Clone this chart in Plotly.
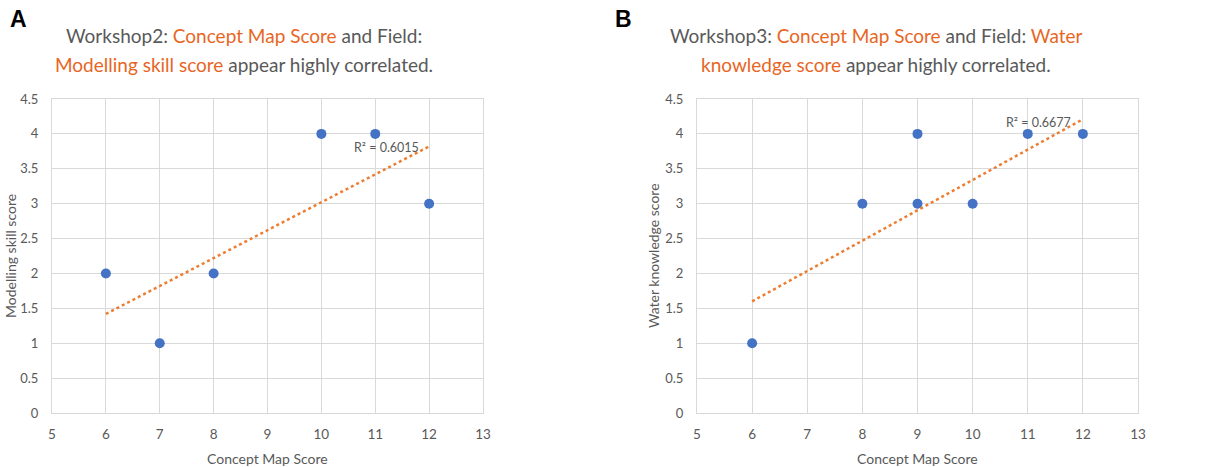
import plotly.graph_objects as go

# ---- data ----
a_x = [6, 7, 8, 10, 11, 12]
a_y = [2, 1, 2, 4, 4, 3]
a_trend_x = [6, 12]
a_trend_y = [1.42, 3.82]
a_r2 = "R² = 0.6015"

b_x = [6, 8, 9, 9, 10, 11, 12]
b_y = [1, 3, 4, 3, 3, 4, 4]
b_trend_x = [6, 12]
b_trend_y = [1.60, 4.21]
b_r2 = "R² = 0.6677"

x_ticks = [5, 6, 7, 8, 9, 10, 11, 12, 13]
y_ticks = [0, 0.5, 1, 1.5, 2, 2.5, 3, 3.5, 4, 4.5]
y_ticklabels = ["0", "0.5", "1", "1.5", "2", "2.5", "3", "3.5", "4", "4.5"]

# ---- style ----
W, H = 1217, 467
FONT = "Lato"
GRAY = "#595959"
ORANGE = "#E8661F"
BLUE = "#4472C4"
TREND = "#ED7D31"
GRID = "#D9D9D9"

fig = go.Figure()

fig.add_trace(go.Scatter(x=a_x, y=a_y, mode="markers",
                         marker=dict(size=10, color=BLUE), xaxis="x", yaxis="y",
                         showlegend=False, hoverinfo="x+y"))
fig.add_trace(go.Scatter(x=a_trend_x, y=a_trend_y, mode="lines",
                         line=dict(color=TREND, width=2.5, dash="dot"),
                         xaxis="x", yaxis="y", showlegend=False))
fig.add_trace(go.Scatter(x=b_x, y=b_y, mode="markers",
                         marker=dict(size=10, color=BLUE), xaxis="x2", yaxis="y2",
                         showlegend=False, hoverinfo="x+y"))
fig.add_trace(go.Scatter(x=b_trend_x, y=b_trend_y, mode="lines",
                         line=dict(color=TREND, width=2.5, dash="dot"),
                         xaxis="x2", yaxis="y2", showlegend=False))

def px_x(p):
    return p / W

def px_y(p):
    return 1 - p / H

ydom = [px_y(413), px_y(99)]

xa_common = dict(range=[5, 13], tickvals=x_ticks, showgrid=True, gridcolor=GRID,
                 gridwidth=1, zeroline=False, showline=True, linecolor=GRID,
                 linewidth=1, mirror=True, ticks="outside", ticklen=9,
                 tickcolor="rgba(0,0,0,0)", automargin=False,
                 tickfont=dict(family=FONT, size=13.5, color=GRAY),
                 fixedrange=True)
ya_common = dict(range=[0, 4.5], tickvals=y_ticks, ticktext=y_ticklabels,
                 showgrid=True, gridcolor=GRID, gridwidth=1, zeroline=False,
                 showline=True, linecolor=GRID, linewidth=1, mirror=True,
                 ticks="outside", ticklen=10, tickcolor="rgba(0,0,0,0)",
                 automargin=False,
                 tickfont=dict(family=FONT, size=13, color=GRAY),
                 fixedrange=True)

fig.update_layout(
    width=W, height=H,
    margin=dict(l=0, r=0, t=0, b=0, autoexpand=False),
    paper_bgcolor="white", plot_bgcolor="white",
    xaxis=dict(domain=[px_x(52), px_x(483)], anchor="y", **xa_common),
    yaxis=dict(domain=ydom, anchor="x", **ya_common),
    xaxis2=dict(domain=[px_x(697), px_x(1138)], anchor="y2", **xa_common),
    yaxis2=dict(domain=ydom, anchor="x2", **ya_common),
)

def o(t):
    return f"<span style='color:{ORANGE}'>{t}</span>"

def paper_text(text, x, y, size, family=FONT, color=GRAY, xanchor="center",
               angle=0):
    return dict(text=text, x=px_x(x), y=px_y(y), xref="paper", yref="paper",
                xanchor=xanchor, yanchor="middle", showarrow=False,
                textangle=angle, font=dict(family=family, size=size, color=color))

annotations = [
    paper_text("<b>A</b>", 8, 19, 23, family="Liberation Sans", color="black",
               xanchor="left"),
    paper_text("<b>B</b>", 613, 19, 23, family="Liberation Sans", color="black",
               xanchor="left"),
    paper_text("Workshop2: " + o("Concept Map Score") + " and Field:", 244, 35.5, 19),
    paper_text(o("Modelling skill score") + " appear highly correlated.", 244, 64, 19),
    paper_text("Workshop3: " + o("Concept Map Score") + " and Field: " + o("Water"),
               876, 35.5, 19),
    paper_text(o("knowledge score") + " appear highly correlated.", 876, 64, 19),
    # axis titles
    paper_text("Concept Map Score", 267.5, 458, 14),
    paper_text("Concept Map Score", 917.5, 458, 14),
    paper_text("Modelling skill score", 10, 256, 14, angle=-90),
    paper_text("Water knowledge score", 653, 256, 14, angle=-90),
    # R² labels
    dict(text=a_r2, x=11.2, y=3.81, xref="x", yref="y", showarrow=False,
         font=dict(family=FONT, size=12.5, color=GRAY)),
    dict(text=b_r2, x=11.2, y=4.17, xref="x2", yref="y2", showarrow=False,
         font=dict(family=FONT, size=12.5, color=GRAY)),
]
fig.update_layout(annotations=annotations)

fig.write_html("out.html", config=dict(displayModeBar=False))
